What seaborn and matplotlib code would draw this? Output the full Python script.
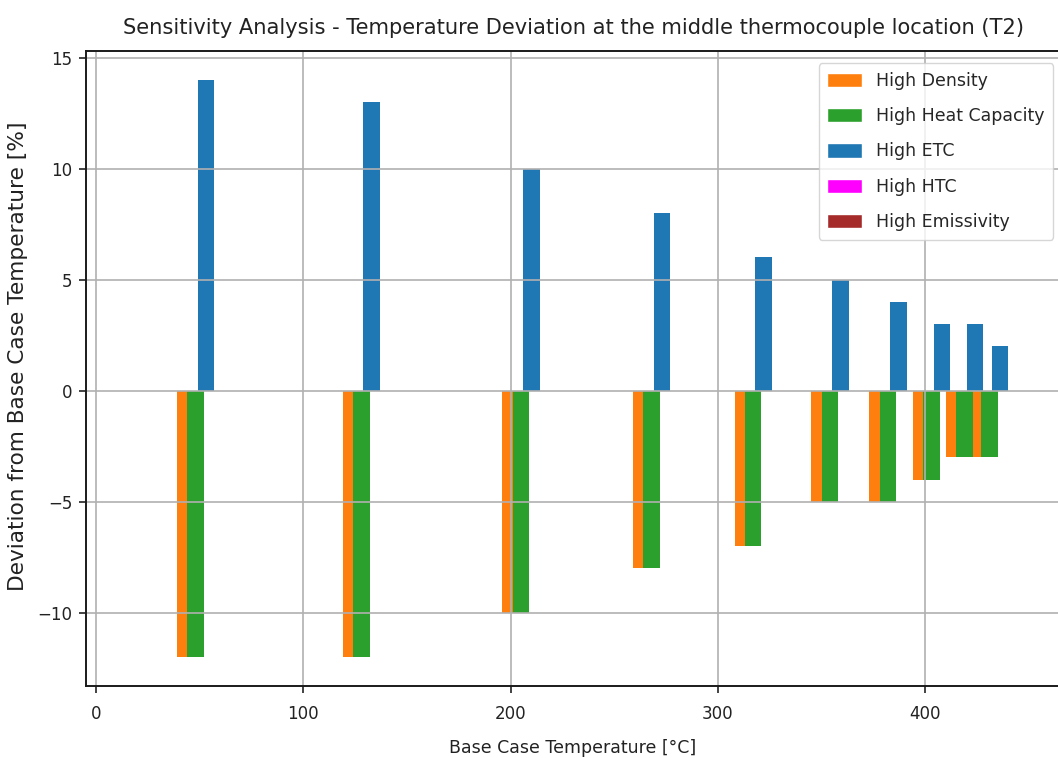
import numpy as np
import pandas as pd
import matplotlib
matplotlib.use("Agg")
import matplotlib.pyplot as plt
from matplotlib import font_manager
from matplotlib.patches import Patch
import seaborn as sns

# Base case temperatures (group centres, °C)
base_temp = [53, 133, 210, 273, 322, 359, 387, 408, 424, 436]

# Deviation from the base case temperature [%] for each perturbed parameter
high_density = [-12, -12, -10, -8, -7, -5, -5, -4, -3, -3]
high_heat_capacity = [-12, -12, -10, -8, -7, -5, -5, -4, -3, -3]
high_etc = [14, 13, 10, 8, 6, 5, 4, 3, 3, 2]
high_htc = [0, 0, 0, 0, 0, 0, 0, 0, 0, 0]
high_emissivity = [0, 0, 0, 0, 0, 0, 0, 0, 0, 0]

series_labels = ["High Density", "High Heat Capacity", "High ETC",
                 "High HTC", "High Emissivity"]
series_values = [high_density, high_heat_capacity, high_etc,
                 high_htc, high_emissivity]
series_colors = ["#ff7f0e", "#2ca02c", "#1f77b4", "#ff00ff", "#a52a2a"]

x_ticks = [0, 100, 200, 300, 400]
y_ticks = [-10, -5, 0, 5, 10, 15]

bar_width = 8.0
bar_step = 5.0

sns.set_style("ticks")
installed = {f.name for f in font_manager.fontManager.ttflist}
condensed = "DejaVu Sans Condensed" in installed
main_font = "DejaVu Sans Condensed" if condensed else "DejaVu Sans"
k = 1.11 if condensed else 1.0
plt.rcParams["font.family"] = [main_font, "DejaVu Sans"]

fig = plt.figure(figsize=(10.58, 7.58), dpi=100)
ax = fig.add_axes([0.0813, 0.0950, 0.9206, 0.8377])

n = len(series_labels)
for i, (label, vals, col) in enumerate(zip(series_labels, series_values, series_colors)):
    xpos = np.asarray(base_temp, dtype=float) + (i - (n - 1) / 2) * bar_step
    df = pd.DataFrame({"T": xpos, "dev": vals})
    gap = np.min(np.diff(np.sort(xpos)))
    sns.barplot(data=df, x="T", y="dev", native_scale=True,
                width=bar_width / gap, color=col, saturation=1,
                errorbar=None, linewidth=0, ax=ax)

ax.set_xlim(-4.8, 465)
ax.set_ylim(-13.3, 15.3)
ax.set_xticks(x_ticks)
ax.set_yticks(y_ticks)
ax.set_axisbelow("line")
ax.grid(True, color="#b0b0b0", linewidth=1.2)

for side in ["left", "bottom", "top", "right"]:
    ax.spines[side].set_visible(True)
    ax.spines[side].set_color("#1a1a1a")
    ax.spines[side].set_linewidth(1.4)

ax.tick_params(axis="x", length=5, width=1.2, color="#222222",
               labelsize=12 * k, labelcolor="#222222", pad=9)
ax.tick_params(axis="y", length=5, width=1.2, color="#222222",
               labelsize=12 * k, labelcolor="#222222", pad=5)

ax.set_xlabel("Base Case Temperature [°C]", fontsize=12.5 * k,
              color="#222222", labelpad=11)
ax.set_ylabel("Deviation from Base Case Temperature [%]", fontsize=15.6,
              family="DejaVu Sans", color="#222222")
ax.yaxis.set_label_coords(-0.0595, 0.52)
ax.set_title("Sensitivity Analysis - Temperature Deviation at the middle "
             "thermocouple location (T2)", fontsize=15.1 * k,
             color="#222222", pad=12)

handles = [Patch(facecolor=c, label=l) for l, c in zip(series_labels, series_colors)]
ax.legend(handles=handles, loc="upper right", bbox_to_anchor=(0.9928, 0.981),
          borderaxespad=0, fontsize=12.5 * k,
          labelspacing=1.0, handleheight=0.9, handlelength=2.0,
          borderpad=0.5, framealpha=0.8, edgecolor="#cccccc")

fig.savefig("out.png", dpi=100)
